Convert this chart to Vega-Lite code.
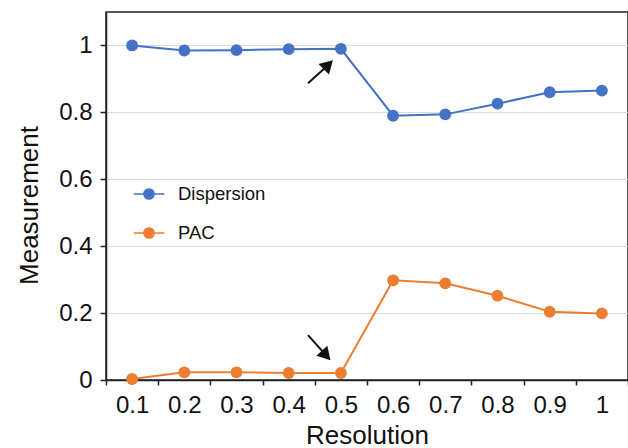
{
  "$schema": "https://vega.github.io/schema/vega-lite/v6.json",
  "width": 522,
  "height": 368,
  "autosize": {"type": "none"},
  "padding": {"left": 106, "top": 12, "right": 0, "bottom": 68},
  "background": "white",
  "title": {"text": "c", "anchor": "start", "frame": "group", "dx": -86, "offset": 5, "baseline": "alphabetic", "fontSize": 34, "fontWeight": "bold", "font": "Liberation Sans", "color": "black"},
  "config": {
    "view": {"stroke": "#222", "strokeWidth": 1.5},
    "font": "Liberation Sans"
  },
  "datasets": {
    "main": [
      {"resolution": 0.1, "series": "Dispersion", "value": 1.0},
      {"resolution": 0.2, "series": "Dispersion", "value": 0.985},
      {"resolution": 0.3, "series": "Dispersion", "value": 0.986},
      {"resolution": 0.4, "series": "Dispersion", "value": 0.989},
      {"resolution": 0.5, "series": "Dispersion", "value": 0.99},
      {"resolution": 0.6, "series": "Dispersion", "value": 0.79},
      {"resolution": 0.7, "series": "Dispersion", "value": 0.794},
      {"resolution": 0.8, "series": "Dispersion", "value": 0.826},
      {"resolution": 0.9, "series": "Dispersion", "value": 0.86},
      {"resolution": 1.0, "series": "Dispersion", "value": 0.865},
      {"resolution": 0.1, "series": "PAC", "value": 0.003},
      {"resolution": 0.2, "series": "PAC", "value": 0.023},
      {"resolution": 0.3, "series": "PAC", "value": 0.023},
      {"resolution": 0.4, "series": "PAC", "value": 0.021},
      {"resolution": 0.5, "series": "PAC", "value": 0.021},
      {"resolution": 0.6, "series": "PAC", "value": 0.298},
      {"resolution": 0.7, "series": "PAC", "value": 0.289},
      {"resolution": 0.8, "series": "PAC", "value": 0.252},
      {"resolution": 0.9, "series": "PAC", "value": 0.204},
      {"resolution": 1.0, "series": "PAC", "value": 0.199}
    ],
    "arrowUp": [{"tx": 0.437, "ty": 0.887, "hx": 0.473, "hy": 0.938}],
    "arrowDown": [{"tx": 0.437, "ty": 0.134, "hx": 0.469, "hy": 0.078}]
  },
  "resolve": {"scale": {"x": "independent"}},
  "layer": [
    {
      "layer": [
        {
          "mark": {"type": "line", "strokeWidth": 2},
          "encoding": {
            "color": {
              "field": "series", "type": "nominal",
              "scale": {"domain": ["Dispersion", "PAC"], "range": ["#4472C4", "#ED7D31"]},
              "legend": {
                "title": null,
                "orient": "none",
                "legendX": 32,
                "legendY": 171,
                "labelFontSize": 18.5,
                "labelColor": "#111",
                "labelOffset": 18,
                "rowPadding": 18,
                "symbolType": "M-1.5,0L1.5,0M-0.5,0A0.5,0.5,0,1,1,0.5,0A0.5,0.5,0,1,1,-0.5,0Z",
                "symbolSize": 420,
                "symbolStrokeWidth": 1.5,
                "encode": {"symbols": {"update": {"fill": {"scale": "color", "field": "value"}, "stroke": {"scale": "color", "field": "value"}, "fillOpacity": {"value": 1}, "strokeOpacity": {"value": 1}}}}
              }
            }
          }
        },
        {
          "mark": {"type": "point", "filled": true, "opacity": 1, "size": 140},
          "encoding": {
            "color": {"field": "series", "type": "nominal"}
          }
        }
      ],
      "data": {"name": "main"},
      "encoding": {
        "x": {
          "field": "resolution", "type": "ordinal",
          "scale": {"type": "band", "paddingInner": 0, "paddingOuter": 0},
          "axis": {
            "title": "Resolution",
            "labelAngle": 0,
            "tickBand": "extent",
            "labelFontSize": 24,
            "labelColor": "#111",
            "labelPadding": 8,
            "tickSize": 5,
            "tickColor": "#222",
            "tickWidth": 1.5,
            "domainColor": "#222",
            "domainWidth": 1.5,
            "grid": false,
            "titleFontSize": 26,
            "titleFontWeight": "normal",
            "titleColor": "#111",
            "titlePadding": 5
          }
        },
        "y": {
          "field": "value", "type": "quantitative",
          "scale": {"domain": [0, 1.1], "nice": false},
          "axis": {
            "title": "Measurement",
            "values": [0, 0.2, 0.4, 0.6, 0.8, 1],
            "format": "~g",
            "labelFontSize": 24,
            "labelColor": "#111",
            "labelPadding": 8,
            "tickSize": 6,
            "tickColor": "#222",
            "tickWidth": 1.5,
            "domainColor": "#222",
            "domainWidth": 1.5,
            "grid": true,
            "gridColor": "#dcdcdc",
            "gridWidth": 1.2,
            "titleFontSize": 26,
            "titleFontWeight": "normal",
            "titleColor": "#111",
            "titlePadding": 16,
            "titleY": 193
          }
        }
      }
    },
    {
      "data": {"name": "arrowUp"},
      "mark": {"type": "rule", "strokeWidth": 2, "color": "#111"},
      "encoding": {
        "x": {"field": "tx", "type": "quantitative", "scale": {"domain": [0.05, 1.05], "nice": false, "zero": false}, "axis": null},
        "y": {"field": "ty", "type": "quantitative"},
        "x2": {"field": "hx"},
        "y2": {"field": "hy"}
      }
    },
    {
      "data": {"name": "arrowUp"},
      "mark": {"type": "point", "shape": "triangle", "filled": true, "opacity": 1, "color": "#111", "size": 220, "angle": 45},
      "encoding": {
        "x": {"field": "hx", "type": "quantitative", "scale": {"domain": [0.05, 1.05], "nice": false, "zero": false}, "axis": null},
        "y": {"field": "hy", "type": "quantitative"}
      }
    },
    {
      "data": {"name": "arrowDown"},
      "mark": {"type": "rule", "strokeWidth": 2, "color": "#111"},
      "encoding": {
        "x": {"field": "tx", "type": "quantitative", "scale": {"domain": [0.05, 1.05], "nice": false, "zero": false}, "axis": null},
        "y": {"field": "ty", "type": "quantitative"},
        "x2": {"field": "hx"},
        "y2": {"field": "hy"}
      }
    },
    {
      "data": {"name": "arrowDown"},
      "mark": {"type": "point", "shape": "triangle", "filled": true, "opacity": 1, "color": "#111", "size": 220, "angle": 138},
      "encoding": {
        "x": {"field": "hx", "type": "quantitative", "scale": {"domain": [0.05, 1.05], "nice": false, "zero": false}, "axis": null},
        "y": {"field": "hy", "type": "quantitative"}
      }
    }
  ]
}
